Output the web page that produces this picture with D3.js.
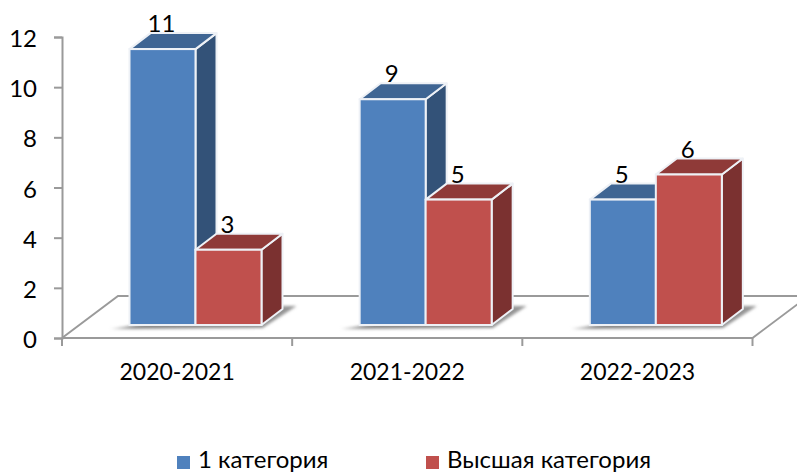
<!DOCTYPE html>
<html>
<head>
<meta charset="utf-8">
<script src="https://cdn.jsdelivr.net/npm/d3@7"></script>
<style>
  html, body { margin: 0; padding: 0; background: #fff; overflow: hidden; }
  text { font-family: Lato, "Open Sans", sans-serif; fill: #000; }
</style>
</head>
<body>
<div id="chart"></div>
<script>
/* DATA */
const categories = ["2020-2021", "2021-2022", "2022-2023"];
const seriesNames = ["1 категория", "Высшая категория"];
const firstCategory = [11, 9, 5];
const topCategory = [3, 5, 6];
const yTicks = [0, 2, 4, 6, 8, 10, 12];

/* CONSTANTS */
const width = 797,
  height = 473,
  depth = { x: 21, y: -16 },       // how far the 3d bar goes back
  floor = { x: 56, y: -42 },       // how far the floor goes back
  barLift = 13;                    // bars stand on the middle of the floor

const colors = [
  { front: "#4f81bd", top: "#3f6593", side: "#335278" },
  { front: "#c0504d", top: "#8f3a38", side: "#7b3130" }
];
const edge = "#eef1f6";
const axisColor = "#9a9a9a";

const svg = d3.select("#chart").append("svg")
  .attr("width", width)
  .attr("height", height);

const defs = svg.append("defs");
defs.append("filter").attr("id", "soft")
  .attr("x", "-10%").attr("y", "-50%").attr("width", "120%").attr("height", "200%")
  .append("feGaussianBlur").attr("stdDeviation", 1.5);
const shade = defs.append("linearGradient").attr("id", "shade");
shade.append("stop").attr("offset", "0%").attr("stop-color", "#c4c4c4");
shade.append("stop").attr("offset", "12%").attr("stop-color", "#858585");
shade.append("stop").attr("offset", "100%").attr("stop-color", "#959595");

/* SCALES */
const yScale = d3.scaleLinear().domain([0, 12]).range([338, 37]);
const xScale = d3.scaleBand().domain(categories).range([62, 752.5]);
const inner = d3.scaleBand().domain([0, 1])
  .range([0, 132]);
const groupOffset = 67.5;

const xEdges = categories.map(c => xScale(c)).concat(xScale.range()[1]);

/* FLOOR */
const y0 = yScale(0), xL = xScale.range()[0], xR = xScale.range()[1];
svg.append("path")
  .attr("d", `M${xL},${y0}L${xL + floor.x},${y0 + floor.y}L${width},${y0 + floor.y}`)
  .attr("fill", "none").attr("stroke", axisColor).attr("stroke-width", 2);
svg.append("path")
  .attr("d", `M${xL},${y0}L${xR},${y0}L${xR + floor.x},${y0 + floor.y}`)
  .attr("fill", "none").attr("stroke", axisColor).attr("stroke-width", 2);

/* AXES */
const yAxis = d3.axisLeft(yScale).tickValues(yTicks).tickSize(8).tickPadding(17).tickFormat(d3.format("d"));
const gy = svg.append("g").attr("transform", `translate(${xL},0)`).call(yAxis);
gy.select(".domain").attr("stroke", axisColor).attr("stroke-width", 2);
gy.selectAll(".tick line").attr("stroke", axisColor).attr("stroke-width", 2);
gy.selectAll("text").attr("font-size", 24).attr("dy", "0.4em");

const xAxis = d3.axisBottom(xScale).tickSize(0).tickPadding(26);
const gx = svg.append("g").attr("transform", `translate(0,${y0})`).call(xAxis);
gx.select(".domain").remove();
gx.selectAll("text").attr("font-size", 23);

svg.append("g").selectAll("line").data(xEdges).join("line")
  .attr("x1", d => d).attr("x2", d => d)
  .attr("y1", y0).attr("y2", y0 + 8)
  .attr("stroke", axisColor).attr("stroke-width", 2);

/* BARS */
const barW = inner.bandwidth();
const base = y0 - barLift;
const barTop = v => yScale(v) - barLift;

const groups = svg.append("g").selectAll("g").data(categories).join("g")
  .attr("transform", d => `translate(${xScale(d) + groupOffset},0)`);

// shadow on the floor
groups.append("path")
  .attr("d", `M-19,${base + 4}L${2 * barW + 1},${base + 3}L${2 * barW + depth.x + 14},${base - 19}L${2 * barW},${base - 19}Z`)
  .attr("fill", "url(#shade)")
  .attr("filter", "url(#soft)");

const serieValues = [firstCategory, topCategory];
serieValues.forEach((values, s) => {
  const bar = groups.append("g")
    .attr("transform", `translate(${inner(s)},0)`)
    .datum((d, i) => values[i]);

  bar.append("path") // side
    .attr("d", d => `M${barW},${barTop(d)}L${barW + depth.x},${barTop(d) + depth.y}L${barW + depth.x},${base + depth.y}L${barW},${base}Z`)
    .attr("fill", colors[s].side).attr("stroke", edge).attr("stroke-width", 2).attr("stroke-linejoin", "round");
  bar.append("path") // top
    .attr("d", d => `M0,${barTop(d)}L${depth.x},${barTop(d) + depth.y}L${barW + depth.x},${barTop(d) + depth.y}L${barW},${barTop(d)}Z`)
    .attr("fill", colors[s].top).attr("stroke", edge).attr("stroke-width", 2).attr("stroke-linejoin", "round");
  bar.append("rect") // front
    .attr("x", 0).attr("y", d => barTop(d))
    .attr("width", barW).attr("height", d => base - barTop(d))
    .attr("fill", colors[s].front).attr("stroke", edge).attr("stroke-width", 2);
});

/* VALUE LABELS */
serieValues.forEach((values, s) => {
  groups.append("text")
    .attr("x", inner(s) + barW / 2 - 1)
    .attr("y", (d, i) => barTop(values[i]) + depth.y - 1)
    .attr("text-anchor", "middle")
    .attr("font-size", 24)
    .text((d, i) => values[i]);
});

/* LEGEND */
const legendX = d3.scaleOrdinal().domain(seriesNames).range([177, 426]);
const legend = svg.append("g").selectAll("g").data(seriesNames).join("g")
  .attr("transform", d => `translate(${legendX(d)},0)`);
legend.append("rect")
  .attr("y", 456).attr("width", 13).attr("height", 13)
  .attr("fill", (d, i) => colors[i].front);
legend.append("text")
  .attr("x", 21).attr("y", 468)
  .attr("font-size", 24)
  .text(d => d);
</script>
</body>
</html>
